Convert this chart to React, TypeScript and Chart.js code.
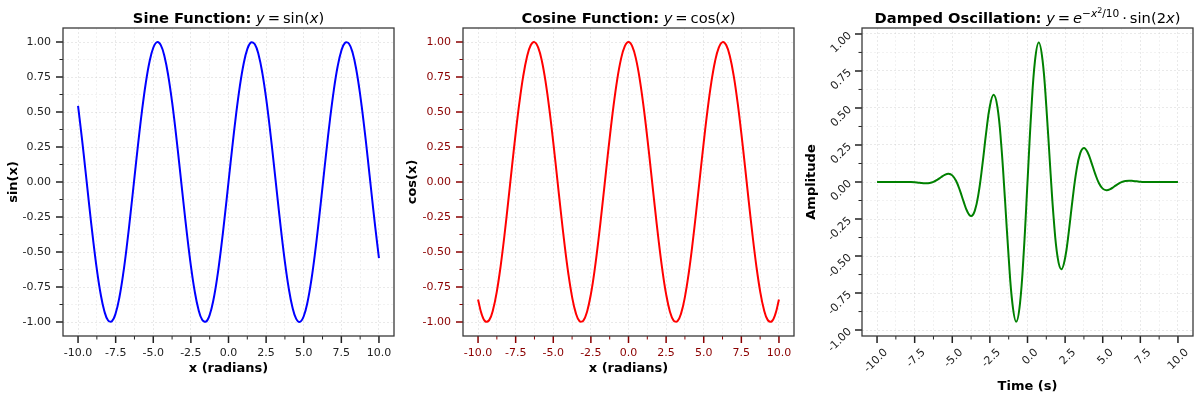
import React, { useEffect, useRef } from 'react';
import { Chart, registerables } from 'chart.js';

Chart.register(...registerables);

const FONT = "'DejaVu Sans', 'Noto Sans', sans-serif";

// ---- data ----
const xGrid = [-10, -9.75, -9.5, -9.25, -9, -8.75, -8.5, -8.25, -8, -7.75, -7.5, -7.25, -7, -6.75, -6.5, -6.25, -6, -5.75, -5.5, -5.25, -5, -4.75, -4.5, -4.25, -4, -3.75, -3.5, -3.25, -3, -2.75, -2.5, -2.25, -2, -1.75, -1.5, -1.25, -1, -0.75, -0.5, -0.25, 0, 0.25, 0.5, 0.75, 1, 1.25, 1.5, 1.75, 2, 2.25, 2.5, 2.75, 3, 3.25, 3.5, 3.75, 4, 4.25, 4.5, 4.75, 5, 5.25, 5.5, 5.75, 6, 6.25, 6.5, 6.75, 7, 7.25, 7.5, 7.75, 8, 8.25, 8.5, 8.75, 9, 9.25, 9.5, 9.75, 10];

const sinValues = [0.544, 0.3195, 0.0751, -0.1739, -0.4121, -0.6248, -0.7985, -0.9227, -0.9894, -0.9946, -0.938, -0.8231, -0.657, -0.45, -0.2151, 0.0332, 0.2794, 0.5083, 0.7055, 0.8589, 0.9589, 0.9993, 0.9775, 0.895, 0.7568, 0.5716, 0.3508, 0.1082, -0.1411, -0.3817, -0.5985, -0.7781, -0.9093, -0.984, -0.9975, -0.949, -0.8415, -0.6816, -0.4794, -0.2474, 0, 0.2474, 0.4794, 0.6816, 0.8415, 0.949, 0.9975, 0.984, 0.9093, 0.7781, 0.5985, 0.3817, 0.1411, -0.1082, -0.3508, -0.5716, -0.7568, -0.895, -0.9775, -0.9993, -0.9589, -0.8589, -0.7055, -0.5083, -0.2794, -0.0332, 0.2151, 0.45, 0.657, 0.8231, 0.938, 0.9946, 0.9894, 0.9227, 0.7985, 0.6248, 0.4121, 0.1739, -0.0751, -0.3195, -0.544];

const cosValues = [-0.8391, -0.9476, -0.9972, -0.9848, -0.9111, -0.7808, -0.602, -0.3857, -0.1455, 0.1039, 0.3466, 0.5679, 0.7539, 0.893, 0.9766, 0.9994, 0.9602, 0.8612, 0.7087, 0.5121, 0.2837, 0.0376, -0.2108, -0.4461, -0.6536, -0.8206, -0.9365, -0.9941, -0.99, -0.9243, -0.8011, -0.6282, -0.4161, -0.1782, 0.0707, 0.3153, 0.5403, 0.7317, 0.8776, 0.9689, 1, 0.9689, 0.8776, 0.7317, 0.5403, 0.3153, 0.0707, -0.1782, -0.4161, -0.6282, -0.8011, -0.9243, -0.99, -0.9941, -0.9365, -0.8206, -0.6536, -0.4461, -0.2108, 0.0376, 0.2837, 0.5121, 0.7087, 0.8612, 0.9602, 0.9994, 0.9766, 0.893, 0.7539, 0.5679, 0.3466, 0.1039, -0.1455, -0.3857, -0.602, -0.7808, -0.9111, -0.9848, -0.9972, -0.9476, -0.8391];

const dampedValues = [0, 0, 0, 0.0001, 0.0002, 0.0005, 0.0007, 0.0008, 0.0005, -0.0005, -0.0023, -0.0049, -0.0074, -0.0084, -0.0061, 0.0013, 0.0147, 0.0321, 0.0486, 0.0559, 0.0447, 0.0079, -0.0544, -0.1312, -0.1997, -0.2299, -0.193, -0.0748, 0.1136, 0.3312, 0.5133, 0.5892, 0.5073, 0.2582, -0.1127, -0.5119, -0.8228, -0.9429, -0.8207, -0.4764, 0, 0.4764, 0.8207, 0.9429, 0.8228, 0.5119, 0.1127, -0.2582, -0.5073, -0.5892, -0.5133, -0.3312, -0.1136, 0.0748, 0.193, 0.2299, 0.1997, 0.1312, 0.0544, -0.0079, -0.0447, -0.0559, -0.0486, -0.0321, -0.0147, -0.0013, 0.0061, 0.0084, 0.0074, 0.0049, 0.0023, 0.0005, -0.0005, -0.0008, -0.0007, -0.0005, -0.0002, -0.0001, 0, 0, 0];

const xTickMajor = [-10, -7.5, -5, -2.5, 0, 2.5, 5, 7.5, 10];
const xTickMinor = [-8.75, -6.25, -3.75, -1.25, 1.25, 3.75, 6.25, 8.75];
const yTickMajor = [-1, -0.75, -0.5, -0.25, 0, 0.25, 0.5, 0.75, 1];
const yTickMinor = [-0.875, -0.625, -0.375, -0.125, 0.125, 0.375, 0.625, 0.875];

const isIn = (arr: number[], v: number) => arr.some((a) => Math.abs(a - v) < 1e-9);

function makeFramePlugin(tickColor: string) {
  return {
    id: 'frameTicks',
    afterDraw(chart: any) {
      const { ctx, chartArea: a, scales } = chart;
      const sx = scales.x;
      const sy = scales.y;
      ctx.save();
      ctx.strokeStyle = tickColor;
      ctx.lineWidth = 1.5;
      ctx.beginPath();
      for (const v of xTickMajor) {
        const p = sx.getPixelForValue(v);
        ctx.moveTo(p, a.bottom);
        ctx.lineTo(p, a.bottom + 7);
      }
      for (const v of yTickMajor) {
        const p = sy.getPixelForValue(v);
        ctx.moveTo(a.left, p);
        ctx.lineTo(a.left - 7, p);
      }
      ctx.stroke();
      ctx.lineWidth = 1;
      ctx.beginPath();
      for (const v of xTickMinor) {
        const p = sx.getPixelForValue(v);
        ctx.moveTo(p, a.bottom);
        ctx.lineTo(p, a.bottom + 3.5);
      }
      for (const v of yTickMinor) {
        const p = sy.getPixelForValue(v);
        if (p < a.top || p > a.bottom) continue;
        ctx.moveTo(a.left, p);
        ctx.lineTo(a.left - 3.5, p);
      }
      ctx.stroke();
      ctx.strokeStyle = '#3a3a3a';
      ctx.lineWidth = 1.3;
      ctx.strokeRect(a.left, a.top, a.right - a.left, a.bottom - a.top);
      ctx.restore();
    },
  };
}

type PanelProps = {
  left: number;
  xs: number[];
  ys: number[];
  color: string;
  tickColor: string;
  xLabel: string;
  yLabel: string;
  yMin: number;
  yMax: number;
  rotate: number;
  yAxisWidth: number;
  padRight: number;
  xTitlePad: number;
  yTitlePad: number;
  yTickPad: number;
  xTickPad: number;
  xLabelOffset: number;
  title: React.ReactNode;
};

function Panel(p: PanelProps) {
  const ref = useRef<HTMLCanvasElement>(null);
  useEffect(() => {
    const gridColor = (majors: number[]) => (c: any) =>
      c.tick && isIn(majors, c.tick.value) ? 'rgba(0,0,0,0.085)' : 'rgba(0,0,0,0.05)';
    const chart = new Chart(ref.current as HTMLCanvasElement, {
      type: 'line',
      data: {
        datasets: [
          {
            data: p.xs.map((x, i) => ({ x, y: p.ys[i] })),
            borderColor: p.color,
            borderWidth: 2,
            pointRadius: 0,
            tension: 0.4,
            fill: false,
          },
        ],
      },
      options: {
        animation: false,
        responsive: false,
        devicePixelRatio: 1,
        layout: { padding: { top: 28, right: p.padRight, bottom: 0, left: 0 } },
        plugins: { legend: { display: false }, tooltip: { enabled: false }, title: { display: false } },
        scales: {
          x: {
            type: 'linear',
            min: -11,
            max: 11,
            afterBuildTicks: (s: any) => {
              s.ticks = [...xTickMajor, ...xTickMinor].sort((a, b) => a - b).map((v) => ({ value: v }));
            },
            afterFit: (s: any) => {
              s.height = 64;
              s.paddingLeft = 0;
              s.paddingRight = 0;
            },
            grid: { color: gridColor(xTickMajor), lineWidth: 1, drawTicks: false },
            border: { display: false, dash: [2, 2] },
            ticks: {
              autoSkip: false,
              padding: p.xTickPad,
              color: p.tickColor,
              font: { family: FONT, size: 11 },
              minRotation: p.rotate,
              maxRotation: p.rotate,
              labelOffset: p.xLabelOffset,
              callback: (v: any) => (isIn(xTickMajor, Number(v)) ? Number(v).toFixed(1) : ''),
            },
            title: {
              display: true,
              text: p.xLabel,
              color: '#000',
              font: { family: FONT, size: 13, weight: 'bold' },
              padding: { top: 0, bottom: p.xTitlePad },
            },
          },
          y: {
            type: 'linear',
            min: p.yMin,
            max: p.yMax,
            afterBuildTicks: (s: any) => {
              s.ticks = [...yTickMajor, ...yTickMinor]
                .filter((v) => v >= p.yMin && v <= p.yMax)
                .sort((a, b) => a - b)
                .map((v) => ({ value: v }));
            },
            afterFit: (s: any) => {
              s.width = p.yAxisWidth;
              s.paddingTop = 0;
              s.paddingBottom = 0;
            },
            grid: { color: gridColor(yTickMajor), lineWidth: 1, drawTicks: false },
            border: { display: false, dash: [2, 2] },
            ticks: {
              autoSkip: false,
              padding: p.yTickPad,
              color: p.tickColor,
              font: { family: FONT, size: 11 },
              minRotation: p.rotate,
              maxRotation: p.rotate,
              callback: (v: any) => (isIn(yTickMajor, Number(v)) ? Number(v).toFixed(2) : ''),
            },
            title: {
              display: true,
              text: p.yLabel,
              color: '#000',
              font: { family: FONT, size: 13, weight: 'bold' },
              padding: { top: p.yTitlePad, bottom: 0 },
            },
          },
        },
      } as any,
      plugins: [makeFramePlugin(p.tickColor)],
    });
    return () => chart.destroy();
  }, []);

  const plotLeft = p.yAxisWidth;
  const plotWidth = 400 - p.padRight - p.yAxisWidth;
  return (
    <div style={{ position: 'absolute', left: p.left, top: 0, width: 400, height: 400 }}>
      <canvas ref={ref} width={400} height={400} style={{ display: 'block', width: 400, height: 400 }} />
      <div
        style={{
          position: 'absolute',
          top: 7,
          left: plotLeft - 40,
          width: plotWidth + 80,
          height: 22,
          lineHeight: '22px',
          textAlign: 'center',
          whiteSpace: 'nowrap',
          fontFamily: FONT,
          fontSize: 14.7,
          color: '#000',
        }}
      >
        {p.title}
      </div>
    </div>
  );
}

const mathStyle: React.CSSProperties = { fontWeight: 'normal' };
const it: React.CSSProperties = { fontStyle: 'italic' };

export default function App() {
  return (
    <div style={{ position: 'fixed', left: 0, top: 0, width: 1200, height: 400, background: '#fff' }}>
      <Panel
        left={0}
        xs={xGrid}
        ys={sinValues}
        color="#0000ff"
        tickColor="#222222"
        xLabel="x (radians)"
        yLabel="sin(x)"
        yMin={-1.1}
        yMax={1.1}
        rotate={0}
        yAxisWidth={63}
        padRight={6}
        xTitlePad={24}
        yTitlePad={6}
        yTickPad={12}
        xTickPad={11}
        xLabelOffset={0}
        title={
          <>
            <b>Sine Function:</b>{' '}
            <span style={mathStyle}>
              <span style={it}>y</span>&thinsp;=&thinsp;sin(<span style={it}>x</span>)
            </span>
          </>
        }
      />
      <Panel
        left={400}
        xs={xGrid}
        ys={cosValues}
        color="#ff0000"
        tickColor="#8b0000"
        xLabel="x (radians)"
        yLabel="cos(x)"
        yMin={-1.1}
        yMax={1.1}
        rotate={0}
        yAxisWidth={63}
        padRight={6}
        xTitlePad={24}
        yTitlePad={5}
        yTickPad={12}
        xTickPad={11}
        xLabelOffset={0}
        title={
          <>
            <b>Cosine Function:</b>{' '}
            <span style={mathStyle}>
              <span style={it}>y</span>&thinsp;=&thinsp;cos(<span style={it}>x</span>)
            </span>
          </>
        }
      />
      <Panel
        left={800}
        xs={xGrid}
        ys={dampedValues}
        color="#008000"
        tickColor="#222222"
        xLabel="Time (s)"
        yLabel="Amplitude"
        yMin={-1.04}
        yMax={1.04}
        rotate={45}
        yAxisWidth={62}
        padRight={7}
        xTitlePad={6}
        yTitlePad={4}
        yTickPad={12}
        xTickPad={10}
        xLabelOffset={9}
        title={
          <>
            <b>Damped Oscillation:</b>{' '}
            <span style={mathStyle}>
              <span style={it}>y</span>&thinsp;=&thinsp;<span style={it}>e</span>
              <span style={{ fontSize: '0.72em', verticalAlign: '0.55em', lineHeight: 0 }}>
                −<span style={it}>x</span>
                <span style={{ fontSize: '0.75em', verticalAlign: '0.5em', lineHeight: 0 }}>2</span>/10
              </span>
              &thinsp;·&thinsp;sin(2<span style={it}>x</span>)
            </span>
          </>
        }
      />
    </div>
  );
}
